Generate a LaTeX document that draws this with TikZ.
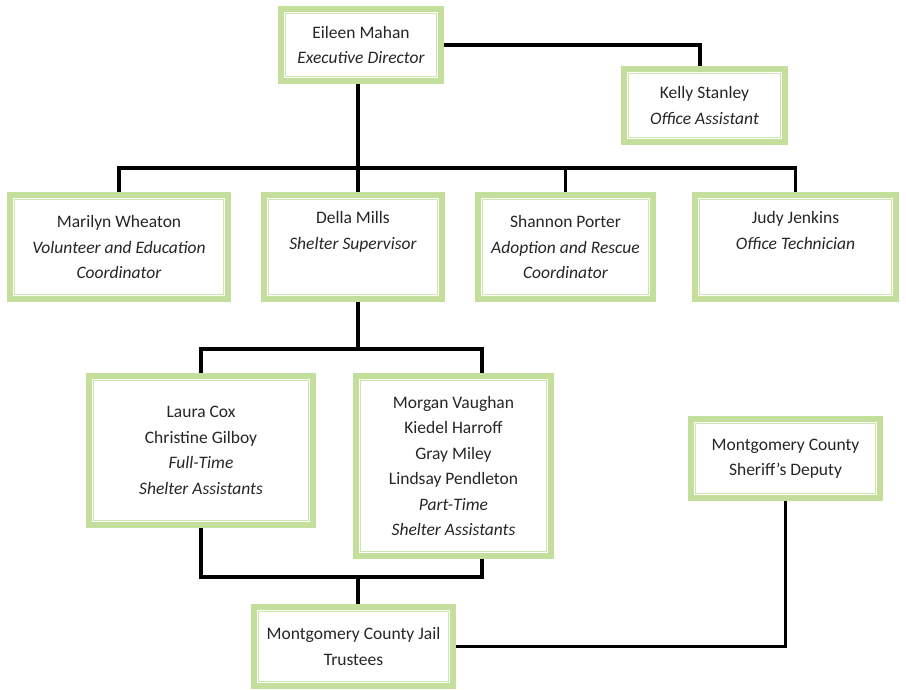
\documentclass[tikz,border=0pt]{standalone}
\usepackage{fontspec}
\setmainfont{Carlito}
\usetikzlibrary{backgrounds}
\definecolor{gOut}{RGB}{196,223,155}
\definecolor{gIn}{RGB}{206,229,176}
\tikzset{
  orgbox/.style={draw=gOut, line width=6pt, fill=white, inner sep=0pt,
    align=center, font={\fontsize{17.5}{25.5}\selectfont}, text=black!85},
  conn/.style={line width=3.8pt, black},
  innerframe/.style={draw=gIn, line width=1.8pt}
}
\newcommand{\myorgframe}[1]{\draw[innerframe] ([xshift=7.5pt,yshift=-7.5pt]#1.north west) rectangle ([xshift=-7.5pt,yshift=7.5pt]#1.south east);}
\begin{document}
\begin{tikzpicture}[x=1pt,y=-1pt]
\useasboundingbox (0,0) rectangle (906,690);

\node[orgbox, minimum width=160, minimum height=72] (eileen) at (361,45)
  {Eileen Mahan\\\textit{Executive Director}};
\node[orgbox, minimum width=161, minimum height=73] (kelly) at (704.5,105.5)
  {Kelly Stanley\\\textit{Office Assistant}};
\node[orgbox, minimum width=218, minimum height=104] (marilyn) at (119,247)
  {Marilyn Wheaton\\\textit{Volunteer and Education}\\\textit{Coordinator}};
\node[orgbox, minimum width=178, minimum height=104] (della) at (353,247)
  {Della Mills\\\textit{Shelter Supervisor}\\\strut};
\node[orgbox, minimum width=175, minimum height=104] (shannon) at (565.5,247)
  {Shannon Porter\\\textit{Adoption and Rescue}\\\textit{Coordinator}};
\node[orgbox, minimum width=201, minimum height=104] (judy) at (795.5,247)
  {Judy Jenkins\\\textit{Office Technician}\\\strut};
\node[orgbox, minimum width=224, minimum height=149] (laura) at (201,450.5)
  {Laura Cox\\Christine Gilboy\\\textit{Full-Time}\\\textit{Shelter Assistants}};
\node[orgbox, minimum width=195, minimum height=180] (morgan) at (453.5,466)
  {Morgan Vaughan\\Kiedel Harroff\\Gray Miley\\Lindsay Pendleton\\\textit{Part-Time}\\\textit{Shelter Assistants}};
\node[orgbox, minimum width=189, minimum height=79] (sheriff) at (785.5,458.5)
  {Montgomery County\\Sheriff's Deputy};
\node[orgbox, minimum width=199, minimum height=79] (jail) at (353.5,646.5)
  {Montgomery County Jail\\Trustees};

\foreach \n in {eileen,kelly,marilyn,della,shannon,judy,laura,morgan,sheriff,jail}{\myorgframe{\n}}

\coordinate (spine) at (358,0);
\coordinate (kdrop) at (700,0);
\coordinate (mdrop) at (482,0);
\coordinate (bus) at (0,168);
\coordinate (bustwo) at (0,349);
\coordinate (busthree) at (0,577);

\begin{pgfonlayer}{background}
\fill[white] (0,0) rectangle (906,690);
\draw[conn] (eileen.east) -| (kdrop |- kelly.north);
\draw[conn] (spine |- eileen.south) -- (spine |- della.north);
\draw[conn] (marilyn.north) |- (judy.north |- bus) -- (judy.north);
\draw[conn] (shannon.north) -- (shannon.north |- bus);
\draw[conn] (spine |- della.south) -- (spine |- bustwo);
\draw[conn] (laura.north) |- (mdrop |- bustwo) -- (mdrop |- morgan.north);
\draw[conn] (laura.south) |- (mdrop |- busthree) -- (mdrop |- morgan.south);
\draw[conn] (spine |- busthree) -- (spine |- jail.north);
\draw[conn] (sheriff.south) |- (jail.east);
\end{pgfonlayer}
\end{tikzpicture}
\end{document}
